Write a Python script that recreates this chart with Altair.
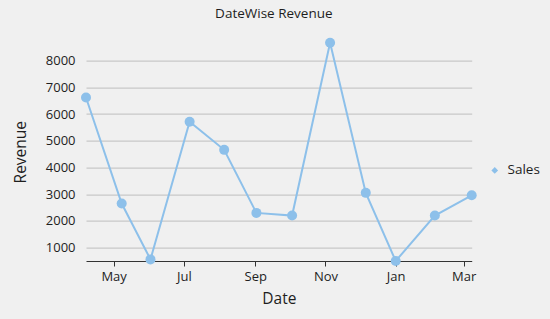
import altair as alt
import pandas as pd

# Monthly revenue observations
dates = [
    "2016-04-07", "2016-05-08", "2016-06-02", "2016-07-06",
    "2016-08-05", "2016-09-02", "2016-10-03", "2016-11-05",
    "2016-12-06", "2017-01-01", "2017-02-04", "2017-03-08",
]
revenue = [6620, 2650, 560, 5710, 4660, 2300, 2200, 8670, 3050, 500, 2200, 2960]
series = ["Sales"] * len(dates)
y_ticks = [1000, 2000, 3000, 4000, 5000, 6000, 7000, 8000]

df = pd.DataFrame({"Date": dates, "Revenue": revenue, "Series": series})

FONT = "Open Sans"
BLUE = "#8DC0EA"
TEXT = "#1e1e1e"

x_enc = alt.X(
    "Date:T",
    scale=alt.Scale(type="utc", nice=False),
    axis=alt.Axis(
        title="Date",
        format="%b",
        tickCount=alt.TimeIntervalStep(interval="month", step=2),
        grid=False,
        domainColor="#333333",
        domainWidth=1.2,
        tickColor="#333333",
        tickSize=5,
        labelFontSize=13,
        labelBaseline="alphabetic",
        labelPadding=14.5,
        labelFont=FONT,
        labelColor=TEXT,
        titleFont=FONT,
        titleFontSize=15.5,
        titleFontWeight="normal",
        titleColor=TEXT,
        titleBaseline="alphabetic",
        titleY=42.5,
    ),
)

y_enc = alt.Y(
    "Revenue:Q",
    scale=alt.Scale(domain=[min(revenue), max(revenue)], nice=False, zero=False),
    axis=alt.Axis(
        title="Revenue",
        values=y_ticks,
        format="d",
        domain=False,
        ticks=False,
        gridColor="#c8c8c8",
        gridWidth=1.3,
        labelFontSize=13,
        labelPadding=11,
        labelFont=FONT,
        labelColor=TEXT,
        titleFont=FONT,
        titleFontSize=15.5,
        titleFontWeight="normal",
        titleColor=TEXT,
        titleAngle=270,
        titleAlign="center",
        titleBaseline="bottom",
        titleX=-58,
        titleY=109,
    ),
)

color_enc = alt.Color(
    "Series:N",
    scale=alt.Scale(range=[BLUE]),
    legend=alt.Legend(
        title=None,
        orient="none",
        legendX=402,
        legendY=121,
        symbolType="diamond",
        symbolSize=45,
        symbolFillColor=BLUE,
        symbolStrokeColor=BLUE,
        symbolStrokeWidth=0,
        labelFont=FONT,
        labelFontSize=13.5,
        labelColor=TEXT,
        labelOffset=6,
    ),
)

base = alt.Chart(df).encode(x=x_enc, y=y_enc, color=color_enc)

line = base.mark_line(strokeWidth=2)
points = base.mark_point(filled=True, size=100, opacity=1)

chart = (
    alt.layer(line, points)
    .properties(
        width=385.7,
        height=218.3,
        title=alt.Title(
            "DateWise Revenue",
            font=FONT,
            fontSize=13.5,
            fontWeight="normal",
            color=TEXT,
            anchor="middle",
            offset=17,
            dx=-5,
        ),
        autosize=alt.AutoSizeParams(type="none"),
        padding={"left": 86, "top": 42.7, "right": 78.3, "bottom": 58},
        background="#f0f0f0",
    )
    .configure_view(stroke=None)
)

chart.save("out.html", embed_options={"renderer": "svg", "actions": False})
